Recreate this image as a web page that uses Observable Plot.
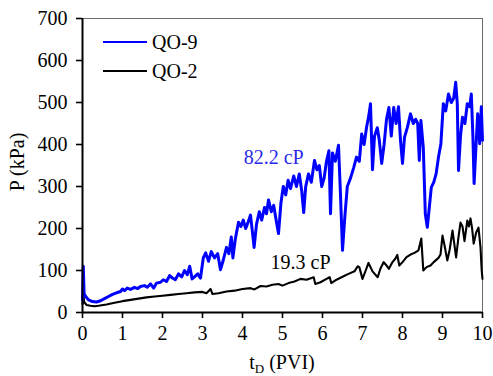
<!DOCTYPE html>
<html><head><meta charset="utf-8">
<script src="https://cdn.jsdelivr.net/npm/d3@7"></script>
<script src="https://cdn.jsdelivr.net/npm/@observablehq/plot@0.6"></script>
<style>
body{margin:0;background:#fff;}
#chart{width:493px;height:376px;}
#chart svg, #chart svg text, #chart svg tspan { font-family: "Liberation Serif", "Times New Roman", serif !important; }
</style>
</head><body><div id="chart"></div>
<script>
// QO-9 (82.2 cP) — blue
const qo9X = [0.00,0.02,0.04,0.08,0.15,0.25,0.35,0.45,0.55,0.65,0.75,0.85,0.95,1.00,1.05,1.12,1.20,1.30,1.38,1.45,1.55,1.62,1.70,1.78,1.85,1.95,2.02,2.10,2.18,2.25,2.32,2.40,2.48,2.55,2.62,2.68,2.74,2.80,2.88,2.95,3.02,3.08,3.15,3.22,3.30,3.38,3.45,3.52,3.60,3.66,3.72,3.76,3.82,3.90,3.96,4.02,4.08,4.14,4.20,4.25,4.29,4.35,4.42,4.48,4.55,4.60,4.65,4.72,4.78,4.85,4.90,4.96,5.02,5.08,5.14,5.20,5.28,5.35,5.42,5.48,5.53,5.58,5.65,5.72,5.80,5.86,5.92,5.98,6.04,6.10,6.16,6.20,6.25,6.32,6.40,6.45,6.50,6.56,6.62,6.70,6.78,6.85,6.92,6.98,7.04,7.10,7.16,7.20,7.25,7.30,7.37,7.42,7.48,7.54,7.60,7.66,7.72,7.78,7.84,7.90,7.95,8.00,8.05,8.12,8.20,8.27,8.33,8.38,8.42,8.46,8.52,8.57,8.62,8.67,8.72,8.78,8.84,8.90,8.96,9.02,9.08,9.15,9.22,9.28,9.33,9.37,9.40,9.45,9.50,9.56,9.62,9.68,9.72,9.76,9.79,9.84,9.88,9.93,9.97,10.0];
const qo9P = [30,110,45,38,30,26,25,28,33,38,43,47,50,56,52,58,55,60,57,62,64,60,68,58,70,72,78,74,88,82,78,92,85,100,90,110,80,85,92,82,130,142,122,145,130,140,102,125,155,140,180,130,175,215,205,220,200,215,232,190,155,210,240,220,250,235,268,240,255,215,188,260,300,280,315,295,325,300,330,290,238,300,330,310,362,340,350,300,320,360,385,235,380,360,398,280,148,230,300,320,345,370,360,425,400,440,470,497,340,420,440,410,355,400,460,488,420,488,450,490,410,355,417,440,473,450,460,450,362,457,393,235,203,250,298,310,330,370,402,497,480,520,500,510,548,497,338,420,465,450,497,490,520,420,307,400,473,402,490,410];

// QO-2 (19.3 cP) — black
const qo2X = [0.00,0.02,0.04,0.10,0.20,0.30,0.40,0.60,0.80,1.00,1.20,1.40,1.60,1.80,2.00,2.20,2.40,2.60,2.80,3.00,3.10,3.20,3.25,3.40,3.60,3.80,4.00,4.20,4.30,4.45,4.60,4.75,4.90,5.00,5.15,5.30,5.45,5.60,5.78,5.82,5.95,6.10,6.18,6.22,6.35,6.50,6.65,6.80,6.88,6.92,7.00,7.08,7.15,7.25,7.38,7.45,7.53,7.60,7.66,7.75,7.82,7.87,7.92,8.00,8.10,8.20,8.30,8.40,8.47,8.52,8.60,8.70,8.78,8.90,8.95,9.00,9.05,9.12,9.18,9.25,9.30,9.34,9.40,9.45,9.50,9.55,9.62,9.66,9.70,9.74,9.78,9.84,9.90,9.95,9.98,10.0];
const qo2P = [20,48,25,18,16,15,16,19,23,27,30,33,36,38,40,42,44,46,48,49,46,56,44,46,50,52,56,58,55,63,62,66,68,64,70,74,80,78,84,68,72,80,84,70,78,85,92,98,110,108,80,100,118,98,84,105,120,112,104,120,128,137,112,120,132,138,142,148,176,100,108,112,120,130,138,183,160,124,150,195,160,131,180,214,205,170,219,205,224,200,164,190,202,155,100,80];

const xTicks = [0,1,2,3,4,5,6,7,8,9,10];
const yTicks = [0,100,200,300,400,500,600,700];

const annLabels = ["82.2 cP", "19.3 cP"];
const annX = [4.78, 5.45];
const annY = [369, 119];
const annColor = ["#2a2ae8", "#000000"];

const seriesNames = ["QO-9", "QO-2"];
const seriesColors = ["#0000ff", "#000000"];

const qo9 = qo9X.map((x, i) => ({x, p: qo9P[i]}));
const qo2 = qo2X.map((x, i) => ({x, p: qo2P[i]}));
const ann = annLabels.map((t, i) => ({t, x: annX[i], y: annY[i], c: annColor[i]}));

const FS = 20;

const plot = Plot.plot({
  width: 493, height: 376,
  marginLeft: 82, marginRight: 11, marginTop: 18, marginBottom: 64,
  style: {fontSize: FS + "px", color: "#000", background: "#fff"},
  x: {domain: [0, 10]},
  y: {domain: [0, 700]},
  marks: [
    Plot.frame({stroke: "#6a6a6a", strokeWidth: 1}),
    Plot.line(qo2, {x: "x", y: "p", stroke: seriesColors[1], strokeWidth: 2.1, strokeLinejoin: "round"}),
    Plot.line(qo9, {x: "x", y: "p", stroke: seriesColors[0], strokeWidth: 3, strokeLinejoin: "round"}),
    Plot.ruleX([0], {stroke: "#000", strokeWidth: 2}),
    Plot.ruleY([0], {stroke: "#000", strokeWidth: 2}),
    Plot.axisY({ticks: yTicks, tickSize: 6, tickPadding: 9, strokeWidth: 1.6, label: null, fontSize: FS}),
    Plot.axisX({ticks: xTicks, tickSize: 6, tickPadding: 7, strokeWidth: 1.6, label: null, fontSize: FS}),
    Plot.text(ann, {x: "x", y: "y", text: "t", fill: "c", fontSize: FS})
  ]
});

const svg = d3.select(plot);
const xs = plot.scale("x"), ys = plot.scale("y");
const xMid = (xs.range[0] + xs.range[1]) / 2;
const yMid = (ys.range[0] + ys.range[1]) / 2;

// x axis label with subscript
const xl = svg.append("text").attr("x", xMid).attr("y", 369).attr("text-anchor", "middle")
  .attr("fill", "#000").attr("font-size", FS);
xl.append("tspan").text("t");
xl.append("tspan").attr("font-size", 13).attr("dy", 4).text("D");
xl.append("tspan").attr("dy", -4).text(" (PVI)");

// y axis label
svg.append("text").attr("transform", `translate(24,${yMid - 3}) rotate(-90)`)
  .attr("text-anchor", "middle").attr("fill", "#000").attr("font-size", FS).text("P (kPa)");

// legend
const lg = svg.append("g");
seriesNames.forEach((name, i) => {
  const yy = 42 + i * 29;
  lg.append("line").attr("x1", 103).attr("x2", 147).attr("y1", yy).attr("y2", yy)
    .attr("stroke", seriesColors[i]).attr("stroke-width", 2.2);
  lg.append("text").attr("x", 152).attr("y", yy).attr("dy", "0.33em").attr("text-anchor", "start")
    .attr("fill", "#000").attr("font-size", FS).text(name);
});

document.getElementById("chart").append(plot);
</script>
</body></html>
